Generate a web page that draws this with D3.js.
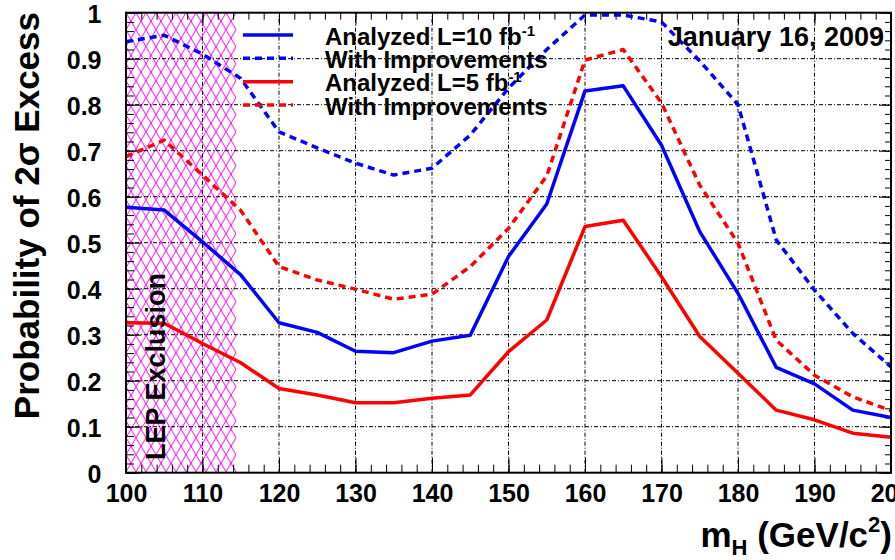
<!DOCTYPE html>
<html>
<head>
<meta charset="utf-8">
<script src="https://cdn.jsdelivr.net/npm/d3@7"></script>
<style>
  body { margin: 0; background: #fff; }
  svg { display: block; }
  text { font-family: "Liberation Sans", Arial, Helvetica, sans-serif; font-weight: bold; fill: #000; }
</style>
</head>
<body>
<div class="chart"></div>
<script>
// Higgs mass points (GeV/c^2)
const masses = [100, 105, 110, 115, 120, 125, 130, 135, 140, 145, 150,
                155, 160, 165, 170, 175, 180, 185, 190, 195, 200];

// probability of a 2 sigma excess
const analyzed10 = [0.577, 0.571, 0.502, 0.430, 0.326, 0.305, 0.264, 0.261, 0.286, 0.299, 0.470,
                    0.584, 0.830, 0.841, 0.712, 0.524, 0.390, 0.229, 0.193, 0.136, 0.120];
const improved10 = [0.937, 0.951, 0.910, 0.857, 0.741, 0.706, 0.673, 0.647, 0.662, 0.734, 0.836,
                    0.920, 0.995, 0.995, 0.980, 0.895, 0.800, 0.506, 0.397, 0.303, 0.230];
const analyzed5  = [0.326, 0.325, 0.281, 0.239, 0.183, 0.169, 0.152, 0.152, 0.162, 0.169, 0.263,
                    0.332, 0.535, 0.549, 0.426, 0.296, 0.216, 0.136, 0.115, 0.086, 0.077];
const improved5  = [0.687, 0.723, 0.647, 0.570, 0.448, 0.419, 0.399, 0.377, 0.388, 0.448, 0.531,
                    0.645, 0.897, 0.920, 0.804, 0.625, 0.499, 0.288, 0.212, 0.165, 0.135];

// LEP excluded region
const lepRange = [100, 114.4];

// tick values
const xMajor = [100, 110, 120, 130, 140, 150, 160, 170, 180, 190, 200];
const xMinor = d3.range(100, 201, 2);
const yMajor = [0, 0.1, 0.2, 0.3, 0.4, 0.5, 0.6, 0.7, 0.8, 0.9, 1];
const yMinor = d3.range(0, 51).map(i => i / 50);

const series = [
  {name: "Analyzed L=10 fb", values: analyzed10, color: "#0000ff", dash: null},
  {name: "With Improvements", values: improved10, color: "#0000ff", dash: "7,5"},
  {name: "Analyzed L=5 fb", values: analyzed5, color: "#ff0000", dash: null},
  {name: "With Improvements", values: improved5, color: "#ff0000", dash: "7,5"}
];

// margin convention
const width = 895, height = 560;
const margin = {top: 12.7, right: 4, bottom: 87.3, left: 126};

const x = d3.scaleLinear().domain([100, 200]).range([margin.left, width - margin.right]);
const y = d3.scaleLinear().domain([0, 1]).range([height - margin.bottom, margin.top]);

const svg = d3.select(".chart").append("svg")
    .attr("width", width)
    .attr("height", height);

// cross hatch for the LEP exclusion
const pat = svg.append("defs").append("pattern")
    .attr("id", "lep")
    .attr("patternUnits", "userSpaceOnUse")
    .attr("x", margin.left).attr("y", margin.top)
    .attr("width", 10).attr("height", 17);
pat.append("path")
    .attr("d", "M-1,-1.7 L11,18.7 M11,-1.7 L-1,18.7")
    .attr("stroke", "#ff00ff")
    .attr("stroke-width", 1)
    .attr("fill", "none");

svg.append("rect")
    .attr("x", x(lepRange[0]))
    .attr("y", y(1))
    .attr("width", x(lepRange[1]) - x(lepRange[0]))
    .attr("height", y(0) - y(1))
    .attr("fill", "url(#lep)");

// grid
const grid = svg.append("g")
    .attr("stroke", "#000")
    .attr("stroke-width", 1)
    .attr("stroke-dasharray", "4,2,1,2");
grid.selectAll(".gx")
  .data(xMajor.slice(1, -1))
  .join("line")
    .attr("x1", d => x(d)).attr("x2", d => x(d))
    .attr("y1", y(0)).attr("y2", y(1));
grid.selectAll(".gy")
  .data(yMajor.slice(1, -1))
  .join("line")
    .attr("x1", x(100)).attr("x2", x(200))
    .attr("y1", d => y(d)).attr("y2", d => y(d));

// axes, ticks pointing inside the frame
function addAxis(axis, transform, labels) {
  const g = svg.append("g")
      .attr("transform", transform)
      .call(axis);
  g.select(".domain").remove();
  g.selectAll(".tick line").attr("stroke", "#000").attr("stroke-width", 1);
  if (labels) {
    g.attr("font-family", null).attr("font-size", 25);
    g.selectAll("text").attr("fill", "#000");
  }
  return g;
}

addAxis(d3.axisBottom(x).tickValues(xMajor).tickSizeInner(-15).tickSizeOuter(0)
    .tickPadding(12).tickFormat(d3.format("d")), `translate(0,${y(0)})`, true);
addAxis(d3.axisBottom(x).tickValues(xMinor).tickSizeInner(-8).tickSizeOuter(0)
    .tickFormat(""), `translate(0,${y(0)})`, false);
addAxis(d3.axisTop(x).tickValues(xMajor).tickSizeInner(-12).tickSizeOuter(0)
    .tickFormat(""), `translate(0,${y(1)})`, false);
addAxis(d3.axisTop(x).tickValues(xMinor).tickSizeInner(-7).tickSizeOuter(0)
    .tickFormat(""), `translate(0,${y(1)})`, false);

const yLab = addAxis(d3.axisLeft(y).tickValues(yMajor).tickSizeInner(-15).tickSizeOuter(0)
    .tickPadding(24.5).tickFormat(d => d === 0 ? "0" : d === 1 ? "1" : d3.format(".1f")(d)),
    `translate(${x(100)},0)`, true);
yLab.selectAll("text").attr("dy", "0.4em");
addAxis(d3.axisLeft(y).tickValues(yMinor).tickSizeInner(-8).tickSizeOuter(0)
    .tickFormat(""), `translate(${x(100)},0)`, false);
addAxis(d3.axisRight(y).tickValues(yMajor).tickSizeInner(-12).tickSizeOuter(0)
    .tickFormat(""), `translate(${x(200)},0)`, false);
addAxis(d3.axisRight(y).tickValues(yMinor).tickSizeInner(-6).tickSizeOuter(0)
    .tickFormat(""), `translate(${x(200)},0)`, false);

// curves
const line = d3.line()
    .x((d, i) => x(masses[i]))
    .y(d => y(d));

svg.append("g")
  .selectAll("path")
  .data(series)
  .join("path")
    .attr("d", d => line(d.values))
    .attr("fill", "none")
    .attr("stroke", d => d.color)
    .attr("stroke-width", 3.5)
    .attr("stroke-linejoin", "round")
    .attr("stroke-dasharray", d => d.dash);

// frame
svg.append("rect")
    .attr("x", x(100)).attr("y", y(1))
    .attr("width", x(200) - x(100))
    .attr("height", y(0) - y(1))
    .attr("fill", "none")
    .attr("stroke", "#000")
    .attr("stroke-width", 2);

// LEP label
svg.append("text")
    .attr("transform", `translate(165,460) rotate(-90)`)
    .attr("font-size", 27)
    .text("LEP Exclusion");

// legend
const legend = svg.append("g");
const rowY = [35, 58.3, 81.7, 105];
const row = legend.selectAll("g")
  .data(series)
  .join("g")
    .attr("transform", (d, i) => `translate(0,${rowY[i]})`);
row.append("line")
    .attr("x1", 243).attr("x2", 293)
    .attr("stroke", d => d.color)
    .attr("stroke-width", 3.5)
    .attr("stroke-dasharray", d => d.dash);
const lt = row.append("text")
    .attr("x", 325).attr("y", 9.5)
    .attr("font-size", 24)
    .text(d => d.name);
lt.filter(d => d.dash === null).append("tspan")
    .attr("dy", -9)
    .attr("font-size", 15)
    .text("-1");

// date
svg.append("text")
    .attr("x", 884).attr("y", 46)
    .attr("text-anchor", "end")
    .attr("font-size", 27)
    .text("January 16, 2009");

// axis titles
svg.append("text")
    .attr("transform", "translate(39,12) rotate(-90)")
    .attr("text-anchor", "end")
    .attr("font-size", 35)
    .text("Probability of 2\u03c3 Excess");

const xt = svg.append("text")
    .attr("x", 892).attr("y", 547)
    .attr("text-anchor", "end")
    .attr("font-size", 35);
xt.append("tspan").text("m");
xt.append("tspan").attr("font-size", 22).attr("dy", 8).text("H");
xt.append("tspan").attr("dy", -8).text(" (GeV/c");
xt.append("tspan").attr("font-size", 22).attr("dy", -15).text("2");
xt.append("tspan").attr("dy", 15).text(")");
</script>
</body>
</html>
